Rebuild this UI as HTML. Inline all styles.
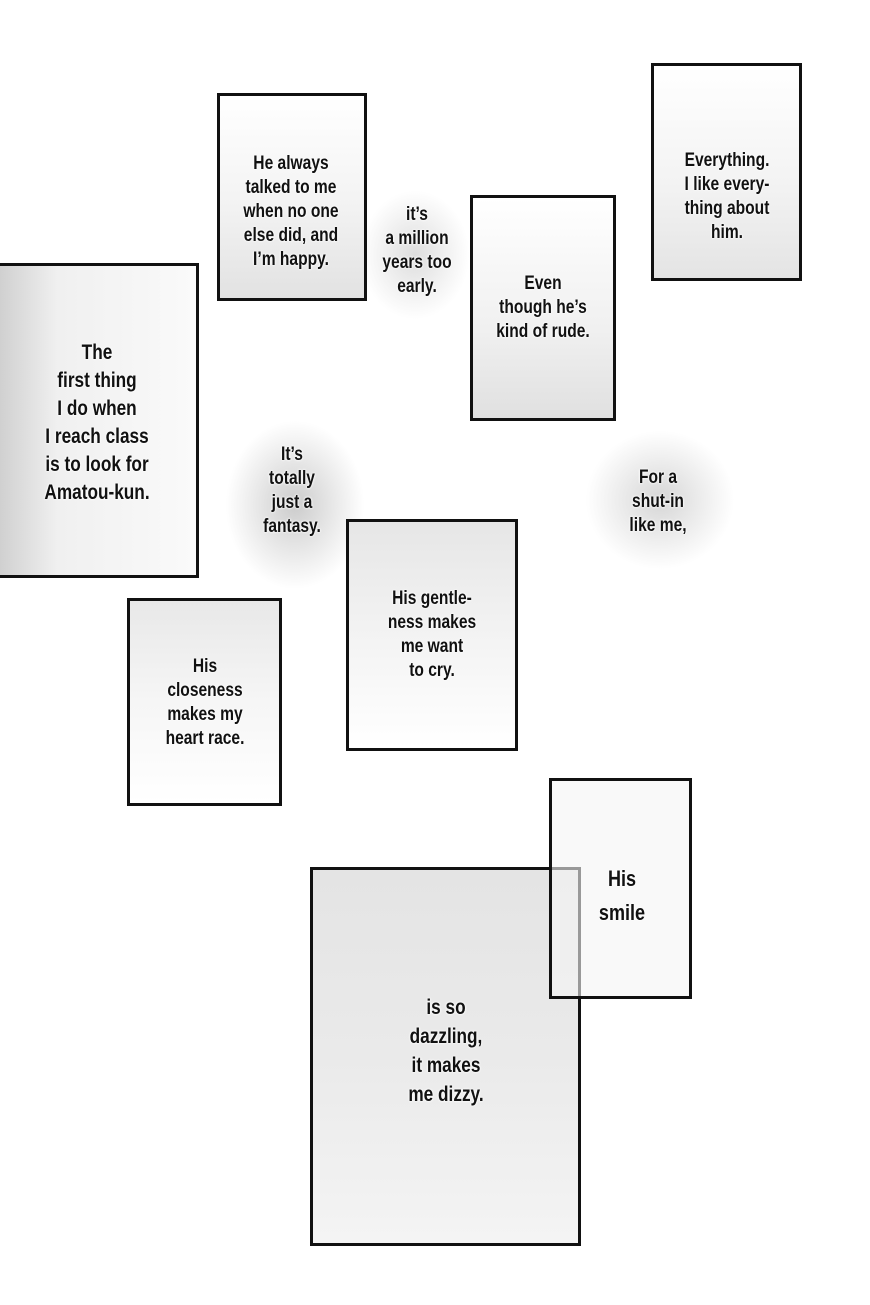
<!DOCTYPE html>
<html><head><meta charset="utf-8"><style>
html,body{margin:0;padding:0;background:#fff;}
body{width:870px;height:1305px;position:relative;overflow:hidden;font-family:"Liberation Sans Narrow","Liberation Sans",sans-serif;font-weight:bold;color:#111;}
.b{position:absolute;border:3px solid #111;box-sizing:border-box;}
.t{position:absolute;text-align:center;font-size:19px;line-height:24px;transform:translateX(-50%) scaleX(0.82);white-space:nowrap;text-shadow:0 0 3px #fff,0 0 3px #fff;}
.blob{position:absolute;border-radius:50%;}
</style></head><body>
<div class="blob" style="left:360px;top:190px;width:110px;height:130px;background:radial-gradient(#ddd,rgba(255,255,255,0) 70%);"></div>
<div class="blob" style="left:225px;top:420px;width:140px;height:170px;background:radial-gradient(#ccc,rgba(255,255,255,0) 70%);"></div>
<div class="blob" style="left:585px;top:430px;width:150px;height:140px;background:radial-gradient(#d6d6d6,rgba(255,255,255,0) 70%);"></div>

<div class="b" style="left:217px;top:93px;width:150px;height:208px;background:linear-gradient(180deg,#fff 0%,#f4f4f4 50%,#e2e2e2 100%);"></div>
<div class="b" style="left:651px;top:63px;width:151px;height:218px;background:linear-gradient(180deg,#fff 0%,#f3f3f3 55%,#e4e4e4 100%);"></div>
<div class="b" style="left:470px;top:195px;width:146px;height:226px;background:linear-gradient(180deg,#fff 0%,#f0f0f0 60%,#e0e0e0 100%);"></div>
<div class="b" style="left:-5px;top:263px;width:204px;height:315px;background:linear-gradient(90deg,#cfcfcf 0%,#f0f0f0 30%,#fafafa 100%);"></div>
<div class="b" style="left:127px;top:598px;width:155px;height:208px;background:linear-gradient(180deg,#e8e8e8 0%,#f6f6f6 50%,#fff 100%);"></div>
<div class="b" style="left:346px;top:519px;width:172px;height:232px;background:linear-gradient(180deg,#e6e6e6 0%,#f3f3f3 50%,#fff 100%);"></div>
<div class="b" style="left:310px;top:867px;width:271px;height:379px;background:linear-gradient(180deg,#e4e4e4 0%,#eaeaea 50%,#f4f4f4 100%);"></div>
<div class="b" style="left:549px;top:778px;width:143px;height:221px;background:rgba(245,245,245,0.6);"></div>

<div class="t" style="left:291px;top:152px;">He always<br>talked to me<br>when no one<br>else did, and<br>I’m happy.</div>
<div class="t" style="left:727px;top:149px;">Everything.<br>I like every-<br>thing about<br>him.</div>
<div class="t" style="left:543px;top:272px;">Even<br>though he’s<br>kind of rude.</div>
<div class="t" style="left:417px;top:203px;">it’s<br>a million<br>years too<br>early.</div>
<div class="t" style="left:97px;top:339px;font-size:21px;line-height:28px;">The<br>first thing<br>I do when<br>I reach class<br>is to look for<br>Amatou-kun.</div>
<div class="t" style="left:292px;top:443px;">It’s<br>totally<br>just a<br>fantasy.</div>
<div class="t" style="left:658px;top:466px;">For a<br>shut-in<br>like me,</div>
<div class="t" style="left:205px;top:655px;">His<br>closeness<br>makes my<br>heart race.</div>
<div class="t" style="left:432px;top:587px;">His gentle-<br>ness makes<br>me want<br>to cry.</div>
<div class="t" style="left:622px;top:862px;font-size:22px;line-height:34px;">His<br>smile</div>
<div class="t" style="left:446px;top:993px;font-size:21px;line-height:29px;">is so<br>dazzling,<br>it makes<br>me dizzy.</div>
</body></html>
